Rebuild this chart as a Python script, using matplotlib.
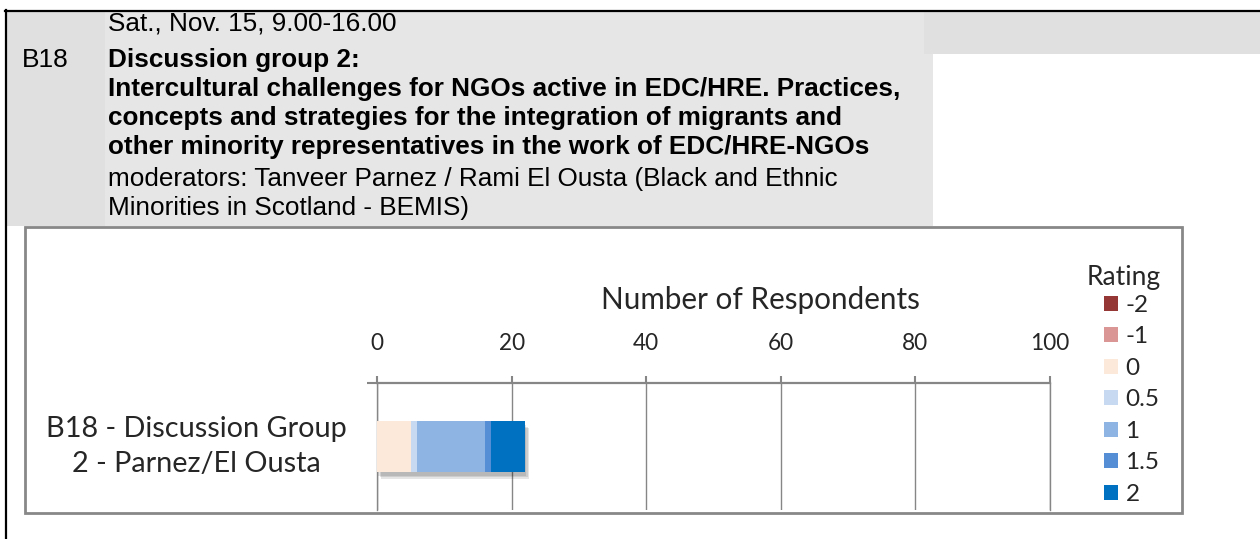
import matplotlib.pyplot as plt
import matplotlib.patheffects as pe
from matplotlib.patches import Rectangle, Patch

# data
categories = ["B18 - Discussion Group\n2 - Parnez/El Ousta"]
ratings = ["-2", "-1", "0", "0.5", "1", "1.5", "2"]
counts = [0, 0, 5, 1, 10, 1, 5]
colors = ["#953735", "#d99694", "#fde9d9", "#c6d9f1", "#8eb4e3", "#558ed5", "#0070c0"]
xticks = [0, 20, 40, 60, 80, 100]

header_lines = [
    ("Sat., Nov. 15, 9.00-16.00", "normal", 23),
    ("Discussion group 2:", "bold", 60),
    ("Intercultural challenges for NGOs active in EDC/HRE. Practices,", "bold", 89),
    ("concepts and strategies for the integration of migrants and", "bold", 118),
    ("other minority representatives in the work of EDC/HRE-NGOs", "bold", 147),
    ("moderators: Tanveer Parnez / Rami El Ousta (Black and Ethnic", "normal", 179),
    ("Minorities in Scotland - BEMIS)", "normal", 208),
]

W, H = 1260, 539
fig = plt.figure(figsize=(W / 100, H / 100), dpi=100)

# background layer in pixel coordinates
bg = fig.add_axes([0, 0, 1, 1])
bg.set_xlim(0, W)
bg.set_ylim(H, 0)
bg.axis("off")
bg.add_patch(Rectangle((6, 11), 99, 215, color="#e0e0e0", lw=0))
bg.add_patch(Rectangle((105, 11), 828, 215, color="#e6e6e6", lw=0))
bg.add_patch(Rectangle((924, 11), 336, 43, color="#e0e0e0", lw=0))
bg.plot([5, W], [10.5, 10.5], color="black", lw=1.6)
bg.plot([5.5, 5.5], [10, H], color="black", lw=1.6)
bg.add_patch(Rectangle((24.5, 226.5), 1157, 286, fill=False, ec="#888888", lw=2))

hfont = "Liberation Sans"
bg.text(22, 60, "B18", fontsize=19, family=hfont, va="center")
for txt, weight, y in header_lines:
    bg.text(108, y, txt, fontsize=18.8, family=hfont, weight=weight, va="center")

# chart
cfont = "Lato"
tcol = "#262626"
left, right, top, bottom = 377, 1050, 383, 510
ax = fig.add_axes([left / W, 1 - bottom / H, (right - left) / W, (bottom - top) / H])
ax.set_xlim(0, 100)
ax.set_ylim(-0.5, 0.5)

shadow = [pe.SimplePatchShadow(offset=(o, -o - 2), shadow_rgbFace="black", alpha=0.1)
          for o in (1, 2, 3)] + [pe.Normal()]
start = 0
for r, c, col in zip(ratings, counts, colors):
    ax.barh(0, c, left=start, height=0.4, color=col, lw=0, path_effects=shadow, zorder=3)
    start += c

ax.set_xticks(xticks)
ax.xaxis.tick_top()
ax.tick_params(axis="x", length=5, width=1.5, color="#868686", pad=16,
               labelsize=16.3, labelcolor=tcol)
for lab in ax.get_xticklabels():
    lab.set_family(cfont)
ax.grid(axis="x", color="#868686", lw=1, zorder=1)

ax.set_yticks([0])
ax.set_yticklabels(categories, family=cfont, fontsize=20.8, color=tcol, va="center",
                   ha="center", multialignment="center", linespacing=1.45)
ax.tick_params(axis="y", which="major", length=0, pad=130)
ax.set_yticks([0.5], minor=True)
ax.tick_params(axis="y", which="minor", length=7, width=1.5, color="#868686")

ax.set_xlabel("Number of Respondents", family=cfont, fontsize=21.3, color=tcol, va="center")
ax.xaxis.set_label_coords((760 - left) / (right - left), (bottom - 300) / (bottom - top))

ax.spines["bottom"].set_visible(False)
ax.spines["top"].set_color("#868686")
ax.spines["top"].set_linewidth(1.6)
for s in ("left", "right"):
    ax.spines[s].set_color("#868686")
    ax.spines[s].set_linewidth(1)

# legend: title placed on its own, entries below it
bg.text(1124, 278, "Rating", family=cfont, fontsize=19, color=tcol, ha="center", va="center")
handles = [Patch(facecolor=col, lw=0) for col in colors]
leg = fig.legend(handles, ratings, loc="upper left",
                 bbox_to_anchor=(1104 / W, 1 - 295 / H), frameon=False,
                 prop={"family": cfont, "size": 17.5},
                 handlelength=0.58, handleheight=0.58, handletextpad=0.3,
                 labelspacing=0.43, borderpad=0, borderaxespad=0)
for t in leg.get_texts():
    t.set_color(tcol)

fig.savefig("out.png", dpi=100)
